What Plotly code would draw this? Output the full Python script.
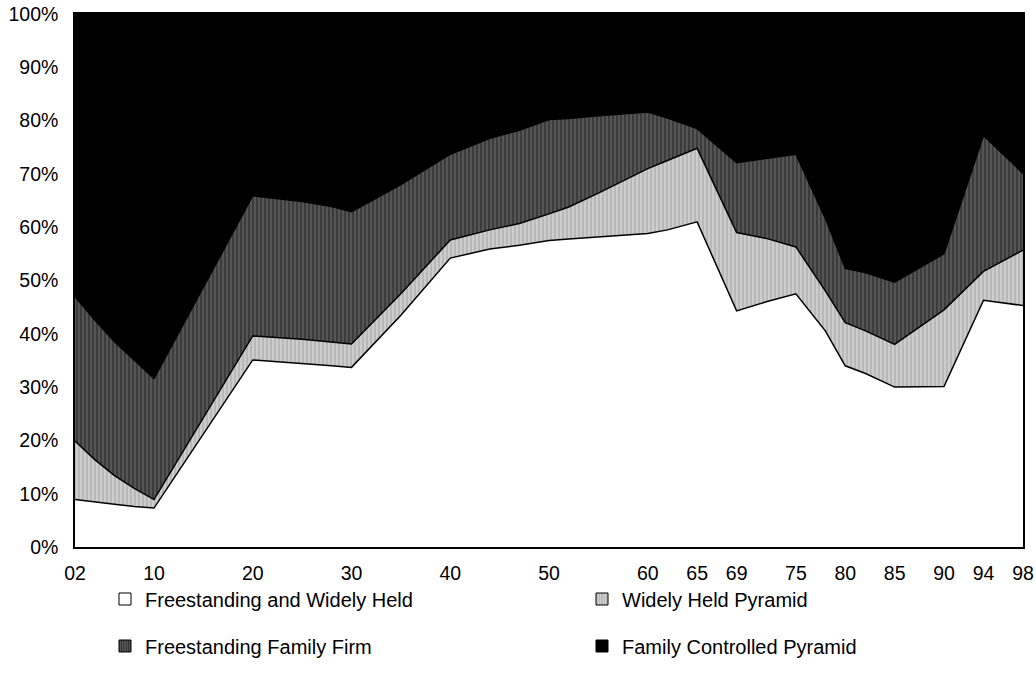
import plotly.graph_objects as go

years = [1902, 1904, 1906, 1908, 1910, 1920, 1925, 1928, 1930, 1935, 1940, 1944, 1947,
         1950, 1952, 1955, 1960, 1962, 1965, 1969, 1972, 1975, 1978, 1980, 1982, 1985,
         1990, 1994, 1998]

# cumulative boundaries (percent)
top_freestanding_widely = [8.9, 8.4, 8.0, 7.6, 7.3, 35.1, 34.5, 34.0, 33.7, 43.5, 54.2, 55.9, 56.6,
                           57.5, 57.8, 58.2, 58.8, 59.5, 61.0, 44.3, 46.0, 47.5, 40.5, 34.0, 32.6, 30.0,
                           30.1, 46.3, 45.3]
top_widely_pyramid = [19.9, 16.4, 13.4, 11.0, 8.9, 39.6, 39.0, 38.5, 38.1, 47.5, 57.6, 59.5, 60.7,
                      62.5, 63.8, 66.4, 71.0, 72.5, 74.8, 59.0, 57.9, 56.3, 48.0, 42.1, 40.6, 38.0,
                      44.5, 51.7, 55.7]
top_family_firm = [47.0, 42.6, 38.5, 35.0, 31.6, 65.9, 64.8, 63.9, 62.9, 68.0, 73.7, 76.7, 78.2,
                   80.2, 80.4, 80.9, 81.6, 80.5, 78.5, 72.1, 72.9, 73.7, 61.6, 52.3, 51.5, 49.7,
                   55.0, 77.2, 70.1]

freestanding_widely_held = top_freestanding_widely
widely_held_pyramid = [b - a for a, b in zip(top_freestanding_widely, top_widely_pyramid)]
freestanding_family_firm = [b - a for a, b in zip(top_widely_pyramid, top_family_firm)]
family_controlled_pyramid = [100 - a for a in top_family_firm]

tick_years = [1902, 1910, 1920, 1930, 1940, 1950, 1960, 1965, 1969, 1975, 1980, 1985, 1990, 1994, 1998]
tick_labels = ["02", "10", "20", "30", "40", "50", "60", "65", "69", "75", "80", "85", "90", "94", "98"]
y_ticks = list(range(0, 101, 10))
y_tick_labels = [f"{v}%" for v in y_ticks]

series_names = ["Freestanding and Widely Held", "Widely Held Pyramid",
                "Freestanding Family Firm", "Family Controlled Pyramid"]

FONT = "Liberation Sans, Arial, sans-serif"
W, H = 1036, 684

fig = go.Figure()

LIGHT = "#b8b8b8"
DARK = "#555555"
styles = [
    dict(fillcolor="white", fillpattern=None),
    dict(fillcolor=LIGHT, fillpattern=dict(shape="|", bgcolor=LIGHT, fgcolor="white",
                                           size=4, solidity=0.3)),
    dict(fillcolor=DARK, fillpattern=dict(shape="|", bgcolor=DARK, fgcolor="black",
                                          size=4, solidity=0.3)),
    dict(fillcolor="black", fillpattern=None),
]
data = [freestanding_widely_held, widely_held_pyramid, freestanding_family_firm, family_controlled_pyramid]

for name, vals, st in zip(series_names, data, styles):
    kw = dict(x=years, y=vals, name=name, mode="lines", stackgroup="one", groupnorm="percent",
              line=dict(color="black", width=1.5), fillcolor=st["fillcolor"], showlegend=False,
              hoverinfo="x+y+name")
    if st["fillpattern"]:
        kw["fillpattern"] = st["fillpattern"]
    fig.add_trace(go.Scatter(**kw))

# legend entries (square swatches), one legend box per entry for a 2x2 layout
leg_styles = [
    dict(color="white", pattern=None),
    dict(color=LIGHT, pattern=dict(shape="|", bgcolor=LIGHT, fgcolor="white", size=3, solidity=0.3)),
    dict(color=DARK, pattern=dict(shape="|", bgcolor=DARK, fgcolor="black", size=3, solidity=0.3)),
    dict(color="black", pattern=None),
]
legend_ids = ["legend", "legend2", "legend3", "legend4"]
for name, st, lg in zip(series_names, leg_styles, legend_ids):
    marker = dict(color=st["color"], line=dict(color="black", width=1))
    if st["pattern"]:
        marker["pattern"] = st["pattern"]
    fig.add_trace(go.Bar(x=[None], y=[None], name=name, marker=marker, legend=lg, showlegend=True))

def leg(x_px, y_px):
    return dict(orientation="h", xref="container", yref="container",
                x=x_px / W, y=1 - y_px / H, xanchor="left", yanchor="middle",
                font=dict(family=FONT, size=20, color="black"),
                bgcolor="rgba(0,0,0,0)", borderwidth=0)

fig.update_layout(
    width=W, height=H,
    margin=dict(l=75, r=13, t=14, b=137, autoexpand=False),
    paper_bgcolor="white", plot_bgcolor="white",
    font=dict(family=FONT, size=19.5, color="black"),
    legend=leg(105, 599),
    legend2=leg(582, 599),
    legend3=leg(105, 646),
    legend4=leg(582, 646),
    xaxis=dict(type="linear", range=[1902, 1998], tickvals=tick_years, ticktext=tick_labels,
               showgrid=False, zeroline=False, showline=True, linecolor="black", linewidth=1.5,
               mirror=True, ticks="", ticklabelstandoff=8, automargin=False,
               ticklabeloverflow="allow"),
    yaxis=dict(range=[0, 100], tickvals=y_ticks, ticktext=y_tick_labels,
               showgrid=False, zeroline=False, showline=True, linecolor="black", linewidth=1.5,
               mirror=True, ticks="", ticklabelstandoff=11, automargin=False,
               ticklabeloverflow="allow"),
    bargap=0,
)

# remove the browser's default 8px page margin so the figure sits at the window origin
fig.write_html("out.html", config={"displayModeBar": False},
               post_script="document.body.style.margin='0';")
